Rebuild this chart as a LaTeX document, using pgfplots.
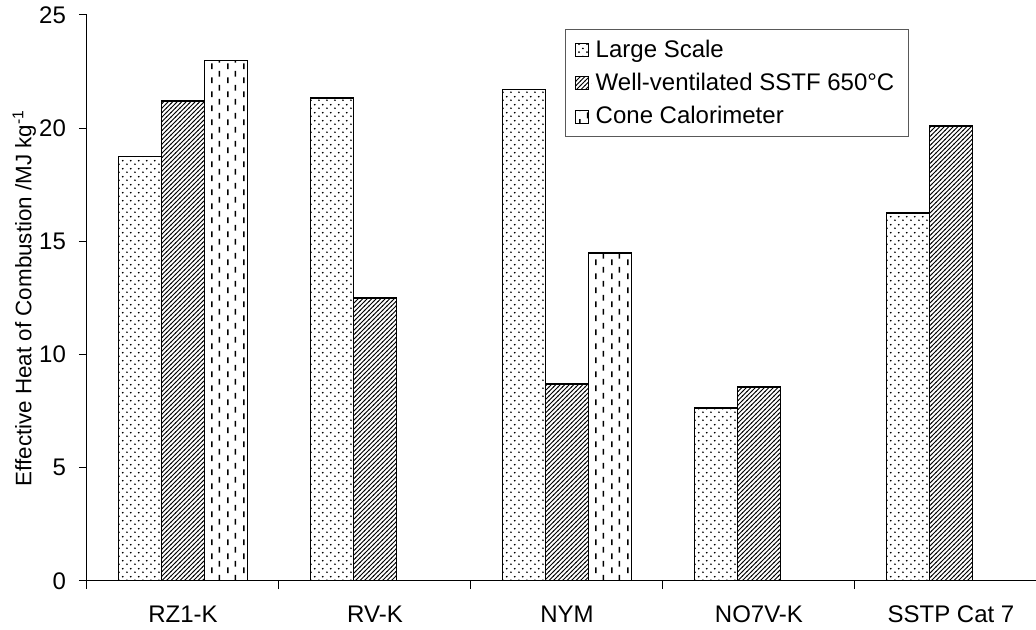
\documentclass[border=0pt]{standalone}
\usepackage{fontspec}
\setmainfont{Liberation Sans}
\usepackage{pgfplots}
\pgfplotsset{compat=1.18}
\usetikzlibrary{patterns}

\pgfdeclarepatternformonly{sdots}{\pgfpointorigin}{\pgfpoint{3.9pt}{4pt}}{\pgfpoint{3.9pt}{4pt}}{%
  \pgfpathcircle{\pgfpoint{1pt}{1pt}}{0.5pt}%
  \pgfpathcircle{\pgfpoint{2.95pt}{3pt}}{0.5pt}%
  \pgfusepath{fill}}
\pgfdeclarepatternformonly{nelines}{\pgfpoint{-0.5pt}{-0.5pt}}{\pgfpoint{2.75pt}{2.75pt}}{\pgfpoint{2.25pt}{2.25pt}}{%
  \pgfsetlinewidth{0.5pt}%
  \pgfpathmoveto{\pgfpoint{-0.2pt}{-0.2pt}}%
  \pgfpathlineto{\pgfpoint{2.45pt}{2.45pt}}%
  \pgfusepath{stroke}}
\pgfdeclarepatternformonly{vdashes}{\pgfpointorigin}{\pgfpoint{8pt}{7pt}}{\pgfpoint{8pt}{7pt}}{%
  \pgfsetlinewidth{0.8pt}%
  \pgfpathmoveto{\pgfpoint{2pt}{0.5pt}}\pgfpathlineto{\pgfpoint{2pt}{3.5pt}}%
  \pgfpathmoveto{\pgfpoint{6pt}{4pt}}\pgfpathlineto{\pgfpoint{6pt}{7pt}}%
  \pgfusepath{stroke}}

\newcommand{\fs}{\fontsize{12}{14}\selectfont}
\newcommand{\fl}{\fontsize{11.2}{13}\selectfont}

\begin{document}
\begin{tikzpicture}
\begin{axis}[
  scale only axis,
  width=474.5pt, height=283pt,
  xmin=0, xmax=4.943, ymin=0, ymax=25,
  axis lines*=left,
  axis line style={line width=0.5pt},
  tick align=outside,
  major tick length=4pt,
  tick style={black, line width=0.5pt},
  ytick={0,5,10,15,20,25},
  xtick={0,1,2,3,4},
  xticklabels={},
  extra x ticks={0.5,1.5,2.5,3.5,4.5},
  extra x tick labels={RZ1-K,RV-K,NYM,NO7V-K,SSTP Cat 7},
  extra x tick style={major tick length=0pt, xticklabel style={yshift=-9pt}},
  /pgf/number format/assume math mode=true,
  ticklabel style={font=\fs},
  yticklabel style={xshift=-3pt},
  ylabel={Effective Heat of Combustion /MJ kg\textsuperscript{-1}},
  ylabel style={font=\fl, at={(axis description cs:-0.066,0.5)}, anchor=center},
  ybar,
  bar width=0.224,
  legend style={at={(rel axis cs:0.866,0.975)}, anchor=north east, draw=gray!70!black, line width=0.5pt,
    font=\fs, row sep=2.5pt, inner xsep=5pt, inner ysep=3pt, cells={anchor=west}},
  legend image code/.code={\draw[#1, line width=0.5pt] (0pt,-3.25pt) rectangle (6.5pt,3.25pt);
    \path[draw=none] (0pt,0pt) -- (8pt,0pt);},
]
\addplot[draw=black, line width=0.75pt, pattern=sdots, bar shift=-0.224] coordinates {
  (0.5,18.75) (1.5,21.33) (2.5,21.70) (3.5,7.64) (4.5,16.25)};
\addlegendentry{Large Scale}
\addplot[draw=black, line width=0.75pt, pattern=nelines, bar shift=0] coordinates {
  (0.5,21.20) (1.5,12.50) (2.5,8.70) (3.5,8.57) (4.5,20.10)};
\addlegendentry{Well-ventilated SSTF 650°C}
\addplot[draw=black, line width=0.75pt, pattern=vdashes, bar shift=0.224] coordinates {
  (0.5,23.00) (2.5,14.49)};
\addlegendentry{Cone Calorimeter}
\end{axis}
\pgfresetboundingbox
\path[use as bounding box] (-43.5pt,-24.5pt) rectangle (474.5pt,290.5pt);
\end{tikzpicture}
\end{document}
